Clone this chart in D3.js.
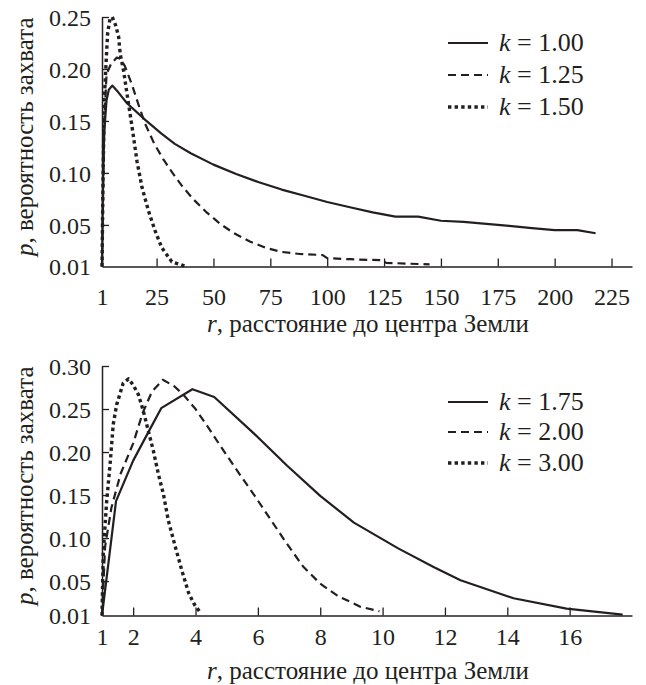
<!DOCTYPE html>
<html><head><meta charset="utf-8">
<script src="https://cdn.jsdelivr.net/npm/d3@7"></script>
<style>
@font-face { font-family: "ChartSerif"; src: local("Liberation Serif"), local("LiberationSerif"); font-style: normal; font-weight: 400; }
@font-face { font-family: "ChartSerif"; src: local("Liberation Serif Italic"), local("LiberationSerif-Italic"); font-style: italic; font-weight: 400; }
body{margin:0;}
#fig text{font-family:"Liberation Serif","ChartSerif","Times New Roman",monospace;}
</style>
</head><body>
<svg id="fig" width="646" height="685"></svg>
<script>
// ---------- DATA ----------
// Top panel: [r, p]
const top_k100 = [[1,0.01],[1.5,0.10],[2,0.14],[3,0.17],[4,0.180],[5.5,0.184],[8,0.178],[12,0.167],[20,0.151],[27,0.138],[33,0.128],[40,0.119],[50,0.108],[60,0.099],[70,0.091],[80,0.084],[90,0.078],[100,0.072],[110,0.067],[120,0.062],[130,0.058],[140,0.058],[150,0.054],[160,0.053],[170,0.051],[180,0.049],[190,0.047],[200,0.045],[210,0.045],[218,0.042]];
const top_k125 = [[1,0.01],[2,0.15],[3,0.195],[5,0.205],[7.5,0.211],[9,0.210],[11,0.203],[14,0.186],[17,0.166],[20,0.147],[24,0.128],[28,0.113],[32,0.100],[36,0.088],[41,0.075],[47,0.062],[53,0.051],[59,0.042],[66,0.034],[73,0.028],[80,0.024],[88,0.022],[98,0.021],[100,0.018],[110,0.017],[124,0.016],[126,0.0135],[145,0.012]];
const top_k150 = [[1,0.01],[1.5,0.10],[2,0.17],[3,0.215],[3.5,0.235],[4.5,0.248],[5.5,0.250],[7,0.242],[8.3,0.231],[9,0.2145],[10.5,0.198],[12,0.176],[13.4,0.156],[14.9,0.134],[16.4,0.111],[18.6,0.086],[21.5,0.063],[24.4,0.044],[27.3,0.028],[31.7,0.0145],[37.5,0.0105]];
// Bottom panel: [r, p]
const bot_k175 = [[1,0.01],[1.45,0.143],[2,0.19],[2.5,0.224],[2.9,0.251],[3.9,0.273],[4.6,0.264],[5.86,0.222],[6.94,0.184],[8.0,0.149],[9.08,0.118],[10.5,0.088],[11.65,0.066],[12.5,0.051],[14.2,0.030],[15.9,0.018],[17.7,0.011]];
const bot_k200 = [[1,0.01],[1.1,0.09],[1.3,0.135],[1.6,0.175],[2.0,0.21],[2.3,0.245],[2.6,0.27],[2.95,0.284],[3.3,0.277],[3.6,0.267],[4.0,0.25],[4.4,0.229],[4.8,0.207],[5.4,0.175],[5.9,0.149],[6.4,0.122],[6.9,0.095],[7.45,0.067],[8.0,0.047],[8.55,0.033],[9.3,0.020],[9.9,0.015]];
const bot_k300 = [[1,0.01],[1.04,0.082],[1.15,0.143],[1.26,0.186],[1.36,0.232],[1.47,0.255],[1.68,0.28],[1.85,0.285],[2.0,0.278],[2.17,0.2665],[2.33,0.247],[2.49,0.224],[2.65,0.201],[2.81,0.174],[2.97,0.151],[3.13,0.12],[3.35,0.09],[3.56,0.0625],[3.78,0.036],[3.99,0.021],[4.15,0.014]];

const topLegend = ["1.00","1.25","1.50"];
const botLegend = ["1.75","2.00","3.00"];
const topXTicks = [1,25,50,75,100,125,150,175,200,225];
const botXTicks = [1,2,4,6,8,10,12,14,16];
const topYTicks = [0.01,0.05,0.10,0.15,0.20,0.25];
const botYTicks = [0.01,0.05,0.10,0.15,0.20,0.25,0.30];
const yTitle = "вероятность захвата";
const xTitle = "расстояние до центра Земли";

// ---------- STYLE ----------
const FF = '"Liberation Serif", "ChartSerif", "Times New Roman", monospace';
const INK = "#231f20";
const styles = [
  {w:2.2, dash:null},
  {w:2.2, dash:"8,5"},
  {w:3.4, dash:"3.4,3.2"}
];

const svg = d3.select("#fig");

function panel(cfg){
  const x = d3.scaleLinear().domain(cfg.xDomain).range([102,632]);
  const y = d3.scaleLinear().domain(cfg.yDomain).range([cfg.yBottom, cfg.yTop]);

  const line = d3.line().x(d=>x(d[0])).y(d=>y(d[1]));
  cfg.series.forEach((s,i)=>{
    svg.append("path").datum(s)
      .attr("d", line)
      .attr("fill","none")
      .attr("stroke", INK)
      .attr("stroke-width", styles[i].w)
      .attr("stroke-dasharray", styles[i].dash)
      .attr("stroke-linejoin","round");
  });

  const gx = svg.append("g").attr("transform",`translate(0,${cfg.yBottom})`)
    .call(d3.axisBottom(x).tickValues(cfg.xTicks).tickSize(-8).tickSizeOuter(0).tickFormat(d3.format("d")));
  gx.attr("font-family", null);
  gx.select(".domain").attr("stroke",INK).attr("stroke-width",1.5);
  gx.selectAll(".tick line").attr("stroke",INK).attr("stroke-width",1.3);
  gx.selectAll(".tick text").style("font-family",FF).style("font-size","24px").attr("fill",INK)
    .attr("dy",0).attr("y", cfg.xTickBase - cfg.yBottom);
  gx.selectAll(".tick").filter(d=>d===cfg.xDomain[0]).select("line").remove();

  const gy = svg.append("g").attr("transform","translate(102,0)")
    .call(d3.axisLeft(y).tickValues(cfg.yTicks).tickSize(-7).tickSizeOuter(0).tickFormat(d3.format(".2f")));
  gy.attr("font-family", null);
  gy.select(".domain").attr("stroke",INK).attr("stroke-width",1.5);
  gy.selectAll(".tick line").attr("stroke",INK).attr("stroke-width",1.3);
  gy.selectAll(".tick text").style("font-family",FF).style("font-size","24px").attr("fill",INK)
    .attr("x",-11).attr("dy","0.34em");
  gy.selectAll(".tick").filter(d=>d===cfg.yDomain[0]).select("line").remove();

  const xt = svg.append("text").attr("x",368).attr("y",cfg.xTitleBase).attr("text-anchor","middle")
    .style("font-family",FF).style("font-size","25px").attr("fill",INK);
  xt.append("tspan").style("font-style","italic").text("r");
  xt.append("tspan").text(", " + xTitle);

  const yc = (cfg.yTop + cfg.yBottom)/2 - 5;
  const yt = svg.append("text").attr("transform",`translate(33,${yc}) rotate(-90)`).attr("text-anchor","middle")
    .style("font-family",FF).style("font-size","25px").attr("fill",INK);
  yt.append("tspan").style("font-style","italic").text("p");
  yt.append("tspan").text(", " + yTitle);

  cfg.legend.forEach((lab,i)=>{
    const cy = cfg.legY[i];
    svg.append("line").attr("x1",448).attr("x2",488).attr("y1",cy).attr("y2",cy)
      .attr("stroke",INK).attr("stroke-width",styles[i].w).attr("stroke-dasharray",styles[i].dash);
    const t = svg.append("text").attr("x",499).attr("y",cy+8)
      .style("font-family",FF).style("font-size","26px").attr("fill",INK);
    t.append("tspan").style("font-style","italic").text("k");
    t.append("tspan").text(" = " + lab);
  });
}

panel({
  xDomain:[1,234], yDomain:[0.01,0.25], yTop:17, yBottom:266.5,
  xTicks: topXTicks, yTicks: topYTicks,
  series:[top_k100, top_k125, top_k150],
  legend: topLegend, legY:[43,75,107],
  xTickBase:305, xTitleBase:332
});
panel({
  xDomain:[1,18], yDomain:[0.01,0.30], yTop:366, yBottom:615.5,
  xTicks: botXTicks, yTicks: botYTicks,
  series:[bot_k175, bot_k200, bot_k300],
  legend: botLegend, legY:[402,432,463],
  xTickBase:645, xTitleBase:679
});
</script>
</body></html>
